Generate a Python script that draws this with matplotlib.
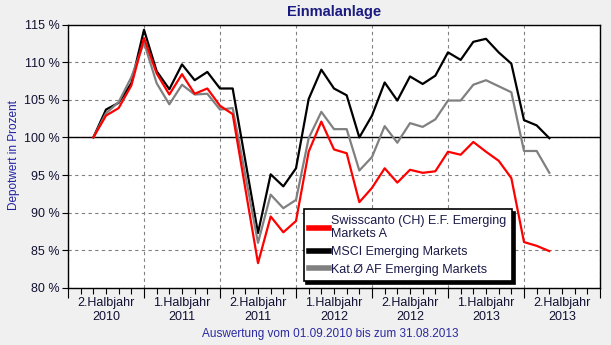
import matplotlib.pyplot as plt
from matplotlib.transforms import blended_transform_factory

# months since 01.07.2010, one point per month end (01.09.2010 .. 31.08.2013)
months = list(range(2, 39))

swisscanto = [100.0, 102.9, 103.9, 106.9, 113.2, 108.5, 105.7, 108.4, 105.8, 106.5,
              104.2, 103.1, 93.2, 83.3, 89.5, 87.4, 88.9, 98.1, 102.1, 98.4,
              97.9, 91.4, 93.3, 95.9, 94.0, 95.7, 95.3, 95.5, 98.1, 97.7,
              99.4, 98.1, 96.9, 94.6, 86.1, 85.6, 84.9]
msci = [100.0, 103.7, 104.6, 107.2, 114.3, 108.8, 106.4, 109.7, 107.6, 108.7,
        106.5, 106.5, 96.9, 87.3, 95.1, 93.5, 95.9, 105.1, 109.0, 106.5,
        105.6, 100.0, 102.9, 107.3, 104.9, 108.1, 107.1, 108.2, 111.3, 110.3,
        112.7, 113.1, 111.3, 109.8, 102.3, 101.6, 99.9]
kat_af = [100.0, 103.2, 104.7, 108.0, 112.6, 107.2, 104.4, 107.0, 105.7, 105.8,
          103.7, 103.9, 95.0, 86.0, 92.4, 90.6, 91.7, 99.9, 103.4, 101.1,
          101.1, 95.6, 97.4, 101.5, 99.3, 101.9, 101.4, 102.4, 104.9, 104.9,
          107.0, 107.6, 106.8, 106.0, 98.2, 98.2, 95.3]

series_names = ["Swisscanto (CH) E.F. Emerging\nMarkets A",
                "MSCI Emerging Markets",
                "Kat.Ø AF Emerging Markets"]
half_year_labels = ["2.Halbjahr\n2010", "1.Halbjahr\n2011", "2.Halbjahr\n2011",
                    "1.Halbjahr\n2012", "2.Halbjahr\n2012", "1.Halbjahr\n2013",
                    "2.Halbjahr\n2013"]
y_ticks = [80, 85, 90, 95, 100, 105, 110, 115]

plt.rcParams['font.family'] = ['Liberation Sans', 'DejaVu Sans']

fig = plt.figure(figsize=(6.11, 3.45), dpi=100, facecolor='#f0f0f0')
ax = fig.add_axes([68 / 611, 1 - 288 / 345, 532 / 611, 263.5 / 345])
ax.set_facecolor('white')

ax.plot(months, swisscanto, color='#ff0000', lw=1.6, label=series_names[0], zorder=4)
ax.plot(months, msci, color='black', lw=1.6, label=series_names[1], zorder=3)
ax.plot(months, kat_af, color='#808080', lw=1.6, label=series_names[2], zorder=3)
ax.axhline(100, color='black', lw=1, zorder=2)

ax.set_xlim(0, 42)
ax.set_ylim(80, 115)

# half-year boundaries as major ticks / grid, months as minor ticks
ax.set_xticks(range(0, 43, 6))
ax.set_xticklabels([])
ax.set_xticks(range(0, 43), minor=True)
ax.tick_params(axis='x', which='major', length=7, direction='out', width=0.8)
ax.tick_params(axis='x', which='minor', length=4, direction='out', width=0.8)
ax.set_yticks(y_ticks)
ax.set_yticklabels([f"{v} %" for v in y_ticks], fontsize=9, color='#111133')
ax.tick_params(axis='y', length=4, direction='out', width=0.8, pad=2)

ax.grid(True, which='major', color='#808080', lw=0.8, linestyle=(0, (3, 3)))
for s in ax.spines.values():
    s.set_linewidth(1)
    s.set_color('black')

trans = blended_transform_factory(ax.transData, ax.transAxes)
for i, lab in enumerate(half_year_labels):
    ax.text(3 + 6 * i, -0.035, lab, transform=trans, ha='center', va='top',
            fontsize=9, color='#111133', linespacing=1.25)

ax.set_title("Einmalanlage", fontsize=10.5, fontweight='bold', color='#1a1a80', pad=6)
fig.text(14 / 611, 1 - 155 / 345, "Depotwert in Prozent", rotation=90,
         ha='center', va='center', fontsize=8.5, color='#2020a0')
fig.text(330 / 611, 1 - 334 / 345, "Auswertung vom 01.09.2010 bis zum 31.08.2013",
         ha='center', va='center', fontsize=8.5, color='#2a2aa0')

leg = ax.legend(loc='upper left', bbox_to_anchor=(0.443, 0.30), fontsize=9,
                frameon=True, fancybox=False, shadow={'color': 'black', 'alpha': 1},
                edgecolor='black', handlelength=1.6, handletextpad=0.15,
                borderpad=0.45, labelspacing=0.45, borderaxespad=0)
leg.get_frame().set_linewidth(1.2)
for h in leg.get_lines():
    h.set_linewidth(4)
for t in leg.get_texts():
    t.set_color('#1a1a4a')

fig.savefig("out.png", dpi=100, facecolor=fig.get_facecolor())
